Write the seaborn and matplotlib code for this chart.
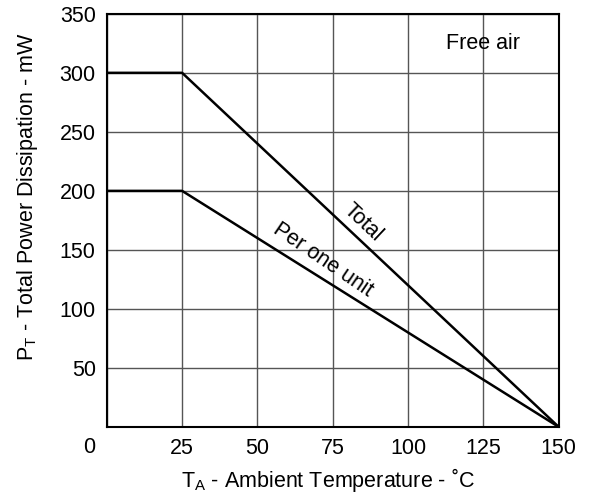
import pandas as pd
import matplotlib.pyplot as plt
import seaborn as sns

# derating curve
temp = [0, 25, 150]
total_mw = [300, 300, 0]
unit_mw = [200, 200, 0]

x_ticks = [0, 25, 50, 75, 100, 125, 150]
y_ticks = [0, 50, 100, 150, 200, 250, 300, 350]

df = pd.DataFrame({'temp': temp * 2,
                   'power': total_mw + unit_mw,
                   'curve': ['Total'] * 3 + ['Per one unit'] * 3})

sns.set_style('white')
plt.rcParams['font.family'] = ['Liberation Sans', 'DejaVu Sans']
plt.rcParams['mathtext.fontset'] = 'custom'
plt.rcParams['mathtext.rm'] = 'Liberation Sans'
plt.rcParams['text.color'] = 'black'
plt.rcParams['axes.labelcolor'] = 'black'

fs = 15.5

fig = plt.figure(figsize=(5.9, 4.93), dpi=100)
ax = fig.add_axes([0.181, 0.134, 0.766, 0.838])

sns.lineplot(data=df, x='temp', y='power', units='curve', estimator=None,
             color='black', linewidth=1.8, legend=False, ax=ax)

ax.set_xlim(0, 150)
ax.set_ylim(0, 350)
ax.set_xticks(x_ticks)
ax.set_yticks(y_ticks)
ax.set_xticklabels([''] + [str(t) for t in x_ticks[1:]])
ax.set_yticklabels([''] + [str(t) for t in y_ticks[1:]])
ax.tick_params(length=0, labelsize=fs, pad=8, colors='black')
ax.grid(True, color='#555555', linewidth=1)
for s in ax.spines.values():
    s.set_color('black')
    s.set_linewidth(1.5)

ax.annotate('0', xy=(0, 0), xytext=(-13, -14.5), textcoords='offset points',
            ha='center', va='center', fontsize=fs)

ax.set_xlabel(r'T$_{\mathrm{A}}$ - Ambient Temperature - ˚C', fontsize=fs,
              va='center')
ax.set_ylabel(r'P$_{\mathrm{T}}$ - Total Power Dissipation - mW', fontsize=fs,
              va='center')
ax.xaxis.set_label_coords(0.49, -0.128)
ax.yaxis.set_label_coords(-0.175, 0.557)

ax.text(85, 173, 'Total', rotation=-43.4, ha='center', va='center',
        fontsize=fs, rotation_mode='anchor')
ax.text(71.7, 141.5, 'Per one unit', rotation=-34.2, ha='center', va='center',
        fontsize=fs, rotation_mode='anchor')
ax.text(124.8, 325, 'Free air', ha='center', va='center', fontsize=fs)

fig.savefig('out.png', dpi=100)
